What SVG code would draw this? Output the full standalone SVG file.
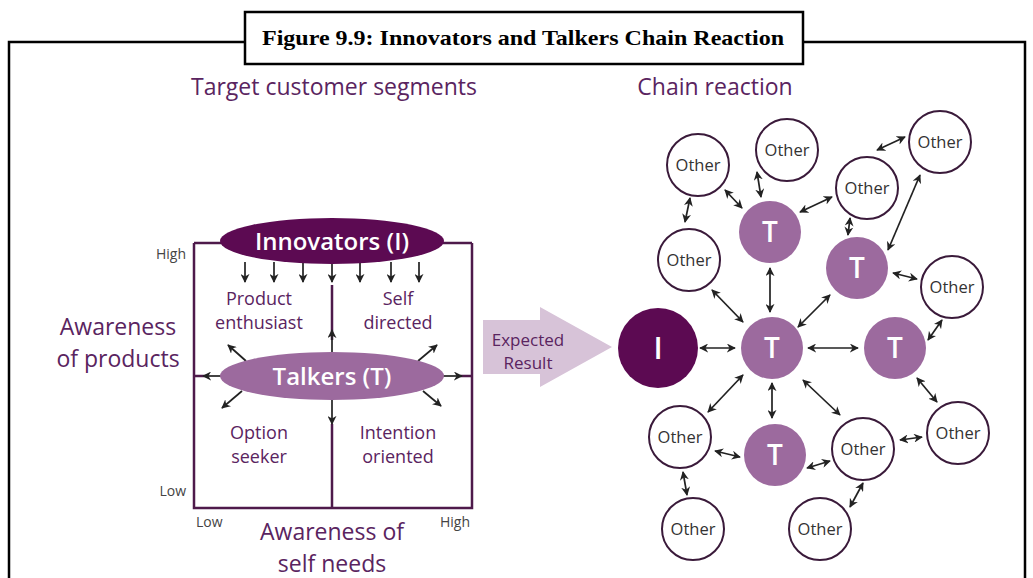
<svg xmlns="http://www.w3.org/2000/svg" width="1033" height="578" viewBox="0 0 1033 578">
<defs>
<marker id="ah" viewBox="0 0 10 10" refX="9" refY="5" markerWidth="9" markerHeight="9" markerUnits="userSpaceOnUse" orient="auto-start-reverse">
<path d="M0,0 L10,5 L0,10 L3,5 Z" fill="#222"/>
</marker>
</defs>
<style>
.frame{fill:none;stroke:#000;stroke-width:2.5}
.box{fill:none;stroke:#4e1a4b;stroke-width:2.5}
.lab{font-family:"Open Sans","DejaVu Sans",sans-serif;fill:#5a2460;text-anchor:middle}
.ax{font-family:"Open Sans","DejaVu Sans",sans-serif;fill:#444;font-size:14px}
.ar{stroke:#222;stroke-width:1.7;fill:none;marker-end:url(#ah)}
.da{stroke:#222;stroke-width:1.7;fill:none;marker-end:url(#ah);marker-start:url(#ah)}
.tn{fill:#9c6a9e}
.on{fill:#fff;stroke:#3a1a3a;stroke-width:2}
.ot{font-family:"Open Sans","DejaVu Sans",sans-serif;font-size:16.5px;fill:#333;text-anchor:middle}
.wt{font-family:"Open Sans","DejaVu Sans",sans-serif;fill:#fff;text-anchor:middle;font-weight:600}
.q{font-size:18px}
</style>
<rect width="1033" height="578" fill="#fff"/>
<g id="frame">
<path class="frame" d="M9,578 V42 H245 M803,42 H1025 V578"/>
<rect x="245" y="12" width="558" height="52" fill="#fff" stroke="#000" stroke-width="2.5"/>
<text x="523" y="45" font-family="Liberation Serif,serif" font-weight="bold" font-size="22" text-anchor="middle" textLength="522" lengthAdjust="spacingAndGlyphs">Figure 9.9: Innovators and Talkers Chain Reaction</text>
</g>
<g id="titles">
<text class="lab" x="334" y="95" font-size="23">Target customer segments</text>
<text class="lab" x="715" y="95" font-size="23">Chain reaction</text>
</g>
<g id="matrix">
<path class="box" d="M194,243 V508 H472 V243 M332,285 V340 M332,424 V508 M194,376 H206 M460,376 H472"/>
<line class="box" x1="194" y1="243" x2="225" y2="243"/>
<line class="box" x1="440" y1="243" x2="472" y2="243"/>
</g>
<g id="labels-axes">
<text class="ax" x="186" y="259" text-anchor="end">High</text>
<text class="ax" x="186" y="496" text-anchor="end">Low</text>
<text class="ax" x="196" y="527">Low</text>
<text class="ax" x="470" y="527" text-anchor="end">High</text>
<text class="lab" x="332" y="540" font-size="23">Awareness of</text>
<text class="lab" x="332" y="572" font-size="23">self needs</text>
<text class="lab" x="118" y="335" font-size="23">Awareness</text>
<text class="lab" x="118" y="367" font-size="23">of products</text>
</g>
<g id="quadrants">
<text class="lab q" x="259" y="305">Product</text>
<text class="lab q" x="259" y="329">enthusiast</text>
<text class="lab q" x="398" y="305">Self</text>
<text class="lab q" x="398" y="329">directed</text>
<text class="lab q" x="259" y="439">Option</text>
<text class="lab q" x="259" y="463">seeker</text>
<text class="lab q" x="398" y="439">Intention</text>
<text class="lab q" x="398" y="463">oriented</text>
</g>
<g id="matrix-arrows">
<line class="ar" x1="245" y1="262" x2="245" y2="282"/>
<line class="ar" x1="274" y1="262" x2="274" y2="282"/>
<line class="ar" x1="303" y1="262" x2="303" y2="282"/>
<line class="ar" x1="332" y1="262" x2="332" y2="282"/>
<line class="ar" x1="360" y1="262" x2="360" y2="282"/>
<line class="ar" x1="391" y1="262" x2="391" y2="282"/>
<line class="ar" x1="419" y1="262" x2="419" y2="282"/>
<line class="ar" x1="332" y1="352" x2="332" y2="330"/>
<line class="ar" x1="332" y1="400" x2="332" y2="424"/>
<line class="ar" x1="222" y1="376" x2="203" y2="376"/>
<line class="ar" x1="442" y1="376" x2="462" y2="376"/>
<line class="ar" x1="246" y1="361" x2="228" y2="345"/>
<line class="ar" x1="418" y1="361" x2="437" y2="345"/>
<line class="ar" x1="242" y1="391" x2="222" y2="408"/>
<line class="ar" x1="423" y1="391" x2="441" y2="406"/>
</g>
<g id="innovators">
<ellipse cx="332" cy="241" rx="112" ry="23" fill="#5c0a52"/>
<text class="wt" x="332" y="250" font-size="24">Innovators (I)</text>
</g>
<g id="talkers">
<ellipse cx="332" cy="376" rx="112" ry="24" fill="#9c6a9e"/>
<text class="wt" x="332" y="385" font-size="24">Talkers (T)</text>
</g>
<g id="expected-result">
<path d="M483,320 H540 V307 L612,347 L540,387 V374 H483 Z" fill="#d7c3d8"/>
<text class="lab" x="528" y="346" font-size="17">Expected</text>
<text class="lab" x="528" y="369" font-size="17">Result</text>
</g>
<g id="connectors">
<line class="da" x1="690" y1="198" x2="685" y2="222"/>
<line class="da" x1="725" y1="190" x2="742" y2="208"/>
<line class="da" x1="757" y1="172" x2="761" y2="197"/>
<line class="da" x1="800" y1="212" x2="832" y2="197"/>
<line class="da" x1="877" y1="150" x2="905" y2="137"/>
<line class="da" x1="850" y1="218" x2="848" y2="235"/>
<line class="da" x1="920" y1="175" x2="888" y2="250"/>
<line class="da" x1="893" y1="273" x2="917" y2="279"/>
<line class="da" x1="712" y1="290" x2="743" y2="322"/>
<line class="da" x1="770" y1="268" x2="770" y2="312"/>
<line class="da" x1="830" y1="295" x2="798" y2="327"/>
<line class="da" x1="942" y1="320" x2="928" y2="340"/>
<line class="da" x1="700" y1="348" x2="735" y2="348"/>
<line class="da" x1="808" y1="348" x2="858" y2="348"/>
<line class="da" x1="743" y1="375" x2="708" y2="412"/>
<line class="da" x1="772" y1="383" x2="772" y2="418"/>
<line class="da" x1="803" y1="380" x2="840" y2="415"/>
<line class="da" x1="917" y1="378" x2="937" y2="402"/>
<line class="da" x1="715" y1="451" x2="740" y2="457"/>
<line class="da" x1="807" y1="468" x2="830" y2="461"/>
<line class="da" x1="900" y1="440" x2="922" y2="437"/>
<line class="da" x1="683" y1="472" x2="687" y2="495"/>
<line class="da" x1="863" y1="483" x2="850" y2="507"/>
</g>
<g id="node-I"><circle cx="658" cy="348" r="40" fill="#5c0a52"/><text class="wt" x="658" y="359" font-size="30">I</text></g>
<g id="node-T1"><circle class="tn" cx="772" cy="348" r="31"/><text class="wt" x="772" y="358" font-size="28">T</text></g>
<g id="node-T2"><circle class="tn" cx="895" cy="348" r="31"/><text class="wt" x="895" y="358" font-size="28">T</text></g>
<g id="node-T3"><circle class="tn" cx="775" cy="455" r="31"/><text class="wt" x="775" y="465" font-size="28">T</text></g>
<g id="node-T4"><circle class="tn" cx="770" cy="232" r="31"/><text class="wt" x="770" y="242" font-size="28">T</text></g>
<g id="node-T5"><circle class="tn" cx="857" cy="268" r="31"/><text class="wt" x="857" y="278" font-size="28">T</text></g>
<g id="node-O1"><circle class="on" cx="698" cy="165" r="31"/><text class="ot" x="698" y="171" font-size="17.5">Other</text></g>
<g id="node-O2"><circle class="on" cx="787" cy="150" r="31"/><text class="ot" x="787" y="156">Other</text></g>
<g id="node-O3"><circle class="on" cx="867" cy="188" r="31"/><text class="ot" x="867" y="194">Other</text></g>
<g id="node-O4"><circle class="on" cx="940" cy="142" r="31"/><text class="ot" x="940" y="148">Other</text></g>
<g id="node-O5"><circle class="on" cx="689" cy="260" r="31"/><text class="ot" x="689" y="266">Other</text></g>
<g id="node-O6"><circle class="on" cx="952" cy="287" r="31"/><text class="ot" x="952" y="293">Other</text></g>
<g id="node-O7"><circle class="on" cx="680" cy="437" r="31"/><text class="ot" x="680" y="443">Other</text></g>
<g id="node-O8"><circle class="on" cx="863" cy="449" r="31"/><text class="ot" x="863" y="455">Other</text></g>
<g id="node-O9"><circle class="on" cx="958" cy="433" r="31"/><text class="ot" x="958" y="439" font-size="17.5">Other</text></g>
<g id="node-O10"><circle class="on" cx="693" cy="529" r="31"/><text class="ot" x="693" y="535">Other</text></g>
<g id="node-O11"><circle class="on" cx="820" cy="529" r="31"/><text class="ot" x="820" y="535">Other</text></g>
</svg>
